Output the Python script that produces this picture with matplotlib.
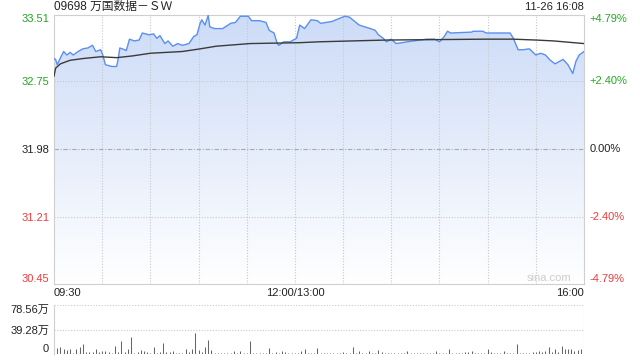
import numpy as np
import matplotlib
matplotlib.use('Agg')
import matplotlib.pyplot as plt
from matplotlib.transforms import blended_transform_factory

plt.rcParams['font.family'] = ['Liberation Sans', 'Noto Sans CJK SC', 'DejaVu Sans']

title = '09698 万国数据－ＳＷ'
stamp = '11-26 16:08'
prev_close = 31.98
price_ticks = [30.45, 31.21, 31.98, 32.75, 33.51]
pct_labels = ['-4.79%', '-2.40%', '0.00%', '+2.40%', '+4.79%']
time_labels = ['09:30', '12:00/13:00', '16:00']
time_pos = [0, 150, 330]

# minutes since 09:30 (lunch break removed) and price
t = [0, 1, 2, 3, 6, 8, 10, 12, 15, 18, 21, 24, 26, 29, 30, 31, 32, 36, 39, 40, 41,
     44, 45, 47, 50, 53, 55, 59, 62, 64, 66, 69, 71, 74, 77, 80, 84, 87, 89, 91, 92,
     94, 96, 97, 100, 105, 110, 113, 116, 121, 123, 128, 132, 134, 137, 139, 140, 143, 147, 151, 153,
     156, 160, 164, 166, 173, 177, 181, 184, 186, 190, 197, 200, 202, 205, 207, 210, 213, 220, 228, 232,
     237, 240, 243, 245, 247, 260, 261, 267, 269, 278, 284, 286, 289, 292, 296, 300, 303, 306, 309, 312,
     315, 317, 320, 323, 325, 327, 330]
price = [33.01, 33.00, 32.94, 32.98, 33.09, 33.05, 33.08, 33.05, 33.09, 33.12, 33.13, 33.16, 33.09, 33.11, 33.07, 33.01, 32.94, 32.92, 32.92, 33.01,
         33.13, 33.11, 33.10, 33.23, 33.21, 33.22, 33.30, 33.28, 33.29, 33.24, 33.27, 33.18, 33.21, 33.15, 33.18, 33.16, 33.18, 33.26, 33.28, 33.41,
         33.45, 33.39, 33.50, 33.37, 33.35, 33.35, 33.41, 33.42, 33.49, 33.49, 33.44, 33.44, 33.42, 33.33, 33.30, 33.18, 33.16, 33.20, 33.20, 33.24,
         33.39, 33.35, 33.45, 33.44, 33.41, 33.43, 33.46, 33.49, 33.48, 33.45, 33.39, 33.35, 33.33, 33.28, 33.24, 33.20, 33.23, 33.18, 33.20, 33.22,
         33.23, 33.23, 33.20, 33.26, 33.32, 33.30, 33.31, 33.32, 33.32, 33.30, 33.30, 33.30, 33.24, 33.11, 33.11, 33.12, 33.05, 33.07, 33.05, 32.99,
         32.95, 32.98, 33.00, 32.94, 32.84, 32.98, 33.05, 33.09]

avg_t = [0, 1, 4, 10, 18, 29, 39, 49, 60, 80, 91, 101, 122, 153, 165, 207, 269, 286, 300, 311, 330]
avg_price = [32.81, 32.90, 32.95, 32.99, 33.01, 33.03, 33.02, 33.04, 33.07, 33.09, 33.12, 33.15, 33.18, 33.19, 33.20,
             33.22, 33.23, 33.23, 33.22, 33.21, 33.18]

# volume in 万 shares, every 2 minutes
vol_t = list(range(0, 331, 2))
volume = [13, 9.5, 11.6, 8, 6.4, 8.5, 2, 8.5, 11.6, 16.4,
          4, 3, 4, 8.5, 3, 5, 5, 4, 2, 13,
          4, 21, 3, 7.5, 27.5, 2, 3, 6.4, 5, 3,
          2, 11.6, 2, 3, 18, 3, 4, 5, 2, 2,
          2, 7.5, 4, 8.5, 34, 6.4, 4, 10.6, 23, 6.4,
          2, 1, 2, 1, 2, 2, 5, 2, 4.8, 2,
          2, 21, 2, 2, 2, 2, 2, 10, 2, 3,
          2, 5, 3, 2, 2, 2, 2, 5, 7.5, 2,
          2, 2, 10, 2, 2, 2, 2, 2, 2, 2,
          3, 2, 2, 11.6, 2, 5, 2, 2, 5, 2,
          2, 7, 3, 2, 2, 2, 2, 2, 2, 2,
          4.8, 2, 2, 2, 2, 2, 2, 2, 2, 5,
          2, 2, 2, 8.5, 2, 2, 2, 2, 4, 3,
          5, 2, 2, 2, 2, 8.5, 4, 2, 2, 2,
          5, 2, 2, 2, 16.4, 2, 2, 2, 2, 4,
          4, 5, 4, 5, 11.6, 4, 8.5, 3, 13, 8.5, 7.5, 8.5, 5, 6.4, 7.5, 78.56]
vol_ticks = [0, 39.28, 78.56]
vol_labels = ['0', '39.28万', '78.56万']

green = '#22a822'
red = '#f03c3c'
grid_c = '#c8c8c8'
spine_c = '#cfcfcf'

fig = plt.figure(figsize=(6.4, 3.6), dpi=100)
ax = fig.add_axes([54 / 640, 1 - 284 / 360, 530 / 640, 269.5 / 360])
axv = fig.add_axes([54 / 640, 1 - 354 / 360, 530 / 640, 49 / 360])

ax.set_xlim(0, 330)
ax.set_ylim(price_ticks[0], price_ticks[-1])

# gradient fill under price line
grad = np.linspace(0, 1, 256).reshape(-1, 1)
top_c = np.array([0.80, 0.86, 0.97])
bot_c = np.array([1.0, 1.0, 1.0])
img = top_c * (1 - grad[..., None]) + bot_c * grad[..., None]
img = np.repeat(img, 2, axis=1)
im = ax.imshow(img, extent=[0, 330, price_ticks[0], price_ticks[-1]], aspect='auto', zorder=1)
poly = ax.fill_between(t, price, price_ticks[0], color='none')
im.set_clip_path(poly.get_paths()[0], transform=ax.transData)

ax.plot(t, price, color='#5b8ff0', lw=1.0, zorder=3)
ax.plot(avg_t, avg_price, color='#3a3a3a', lw=1.0, zorder=3)

# grid
for y in [32.75, 31.21]:
    ax.axhline(y, color=grid_c, lw=0.8, ls=(0, (1, 1.5)), zorder=2)
ax.axhline(prev_close, color='#aaaaaa', lw=0.8, ls=(0, (4, 1.5, 1, 1.5)), zorder=2)
for x in range(30, 330, 30):
    ax.axvline(x, color=grid_c, lw=0.8, ls=(0, (1, 1.5)), zorder=2)

for s in ax.spines.values():
    s.set_color(spine_c)
ax.tick_params(length=0, labelsize=8)

ax.set_yticks(price_ticks)
ax.set_yticklabels([f'{v:.2f}' for v in price_ticks])
for lab, v in zip(ax.get_yticklabels(), price_ticks):
    lab.set_color(green if v > prev_close else (red if v < prev_close else '#222222'))
ylabs = ax.get_yticklabels()
ylabs[0].set_va('bottom')
ylabs[-1].set_va('top')

tr = blended_transform_factory(ax.transAxes, ax.transData)
for v, s in zip(price_ticks, pct_labels):
    c = green if v > prev_close else (red if v < prev_close else '#222222')
    va = 'bottom' if v == price_ticks[0] else ('top' if v == price_ticks[-1] else 'center')
    ax.text(1.011, v, s, transform=tr, color=c, fontsize=8, va=va, ha='left')

ax.set_xticks(time_pos)
ax.set_xticklabels(time_labels)
xl = ax.get_xticklabels()
xl[0].set_ha('left')
xl[-1].set_ha('right')
ax.tick_params(axis='x', pad=3, labelcolor='#222222')

ax.text(0, 1.027, title, transform=ax.transAxes, fontsize=8.5, ha='left', va='center', color='#222222')
ax.text(1, 1.027, stamp, transform=ax.transAxes, fontsize=8, ha='right', va='center', color='#222222')
ax.text(0.976, 0.005, 'sina.com', transform=ax.transAxes, fontsize=8, ha='right', va='bottom', color='#cccccc', zorder=4)

# volume panel
axv.set_xlim(0, 330)
axv.set_ylim(0, vol_ticks[-1])
axv.vlines(vol_t, 0, volume, color='#666666', lw=0.75)
axv.axhline(vol_ticks[1], color=grid_c, lw=0.8, ls=(0, (1, 1.5)))
axv.axhline(vol_ticks[2], color=grid_c, lw=0.8, ls=(0, (1, 1.5)))
for k in ['top', 'right', 'bottom']:
    axv.spines[k].set_visible(False)
axv.spines['left'].set_color(spine_c)
axv.set_xticks([])
axv.set_yticks(vol_ticks)
axv.set_yticklabels(vol_labels)
axv.tick_params(length=0, labelsize=8, labelcolor='#222222')
vl = axv.get_yticklabels()
vl[0].set_va('bottom')
vl[-1].set_va('top')

fig.savefig('out.png', dpi=100)
